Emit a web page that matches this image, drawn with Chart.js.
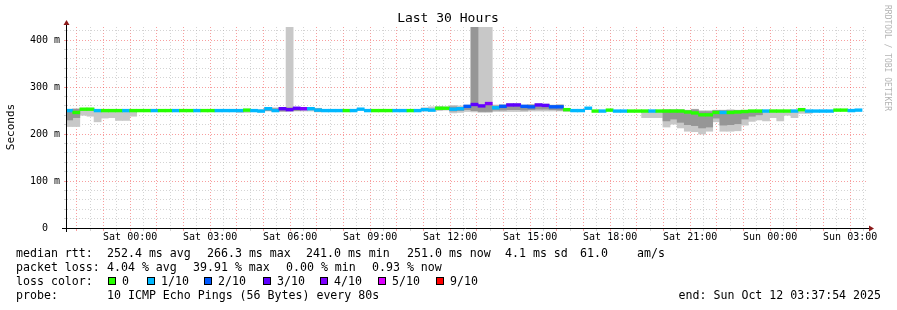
<!DOCTYPE html>
<html>
<head>
<meta charset="utf-8">
<script src="https://cdn.jsdelivr.net/npm/chart.js@4"></script>
<style>
  html, body { margin: 0; padding: 0; background: #fff; }
  canvas { display: block; }
</style>
</head>
<body>
<canvas id="chart" width="897" height="310"></canvas>
<script>
// loss legend
const lossLevels = [0, 1, 2, 3, 4, 5, 9];
const lossColors = ['#26ff00', '#00b8ff', '#0059ff', '#5e00ff', '#7e00ff', '#dd00ff', '#ff0000'];
const lossLabels = ['0', '1/10', '2/10', '3/10', '4/10', '5/10', '9/10'];

// x axis labels every 3 hours, first one is Sat 00:00
const xLabels = ['Sat 00:00', 'Sat 03:00', 'Sat 06:00', 'Sat 09:00', 'Sat 12:00',
  'Sat 15:00', 'Sat 18:00', 'Sat 21:00', 'Sun 00:00', 'Sun 03:00'];

// median rtt per 16 min step (ms)
const median = [
  250, 246, 253, 253, 250, 250, 250, 250, 250, 250,
  250, 250, 250, 250, 250, 250, 250, 250, 250, 250,
  250, 250, 250, 250, 250, 251, 250, 249, 254, 250,
  254, 252, 255, 254, 254, 251, 250, 250, 250, 250,
  250, 253, 250, 250, 250, 250, 250, 250, 250, 250,
  252, 251, 255, 255, 253, 254, 259, 263, 260, 265,
  256, 259, 262, 262, 259, 258, 262, 261, 258, 258,
  252, 250, 250, 255, 249, 249, 251, 249, 249, 249,
  249, 249, 249, 249, 249, 249, 249, 247, 245, 241,
  241, 246, 246, 246, 247, 248, 249, 249, 249, 249,
  249, 249, 249, 252, 249, 249, 249, 249, 251, 251,
  250, 251
];

// lost pings out of 10 per step
const loss = [
  1, 0, 0, 0, 1, 0, 0, 0, 1, 0,
  0, 0, 1, 0, 0, 1, 0, 0, 1, 0,
  0, 1, 1, 1, 1, 0, 1, 1, 1, 1,
  3, 3, 3, 4, 1, 1, 1, 1, 1, 0,
  1, 1, 1, 0, 0, 0, 1, 1, 0, 1,
  1, 1, 0, 0, 1, 1, 2, 3, 3, 4,
  1, 2, 3, 3, 2, 2, 3, 3, 2, 2,
  0, 1, 1, 1, 0, 1, 0, 1, 1, 0,
  0, 0, 1, 0, 0, 0, 0, 0, 0, 0,
  0, 0, 1, 0, 0, 0, 0, 0, 1, 0,
  0, 0, 1, 0, 1, 1, 1, 1, 0, 0,
  1, 1
];

// smoke, outer band (min .. max ping)
const smokeLo = [
  216, 216, 240, 238, 226, 234, 235, 229, 229, 238,
  null, null, null, null, null, null, null, null, null, null,
  null, null, null, null, 246, 246, null, 247, 249, 249,
  248, 248, 249, 249, 249, 247, null, null, null, null,
  null, null, null, null, null, null, null, null, null, null,
  249, 249, 250, 251, 245, 246, 248, 247, 246, 246,
  248, 248, 248, 248, 248, 249, 249, 249, 249, 249,
  248, null, null, null, null, null, null, null, null, null,
  null, 235, 235, 235, 215, 221, 213, 206, 205, 200,
  206, 226, 206, 206, 207, 219, 227, 230, 228, 235,
  228, 240, 235, 244, 244, null, null, null, null, null,
  null, null
];
const smokeHi = [
  253, 254, 254, 255, 252, 252, 252, 252, 252, 252,
  null, null, null, null, null, null, null, null, null, null,
  null, null, null, null, 252, 253, null, 252, 257, 256,
  257, 440, 257, 256, 256, 255, null, null, null, null,
  null, null, null, null, null, null, null, null, null, null,
  256, 258, 259, 258, 261, 260, 262, 440, 440, 440,
  262, 263, 265, 265, 262, 263, 265, 264, 262, 262,
  254, null, null, null, null, null, null, null, null, null,
  null, 251, 251, 251, 252, 252, 252, 251, 253, 250,
  250, 251, 251, 252, 251, 251, 251, 251, 251, 251,
  251, 251, 251, 253, 251, null, null, null, null, null,
  null, null
];

// smoke, inner band (darker)
const coreLo = [
  230, 235, null, null, null, null, null, null, null, null,
  null, null, null, null, null, null, null, null, null, null,
  null, null, null, null, null, null, null, null, 250, 249,
  249, 250, 250, null, null, 248, null, null, null, null,
  null, null, null, null, null, null, null, null, null, null,
  null, null, null, null, 249, 250, 252, 250, 248, 248,
  251, 251, 252, 252, 251, 252, 253, 253, 252, 251,
  null, null, null, null, null, null, null, null, null, null,
  null, null, null, null, 228, 232, 225, 220, 218, 213,
  215, 234, 219, 220, 222, 232, 238, 241, null, null,
  null, null, null, null, null, null, null, null, null, null,
  null, null
];
const coreHi = [
  251, 253, null, null, null, null, null, null, null, null,
  null, null, null, null, null, null, null, null, null, null,
  null, null, null, null, null, null, null, null, 256, 254,
  256, 256, 256, null, null, 254, null, null, null, null,
  null, null, null, null, null, null, null, null, null, null,
  null, null, null, null, 258, 257, 261, 440, 258, 262,
  260, 261, 263, 263, 261, 262, 263, 263, 261, 262,
  null, null, null, null, null, null, null, null, null, null,
  null, null, null, null, 251, 251, 251, 250, 252, 248,
  248, 250, 250, 250, 250, 250, 250, 250, null, null,
  null, null, null, null, null, null, null, null, null, null,
  null, null
];

// time axis: hours since graph start (Fri 21:37:54), 30 hours shown
const HOURS = 30;
const FIRST_BIN = 0.081;       // centre of first (partial) step
const STEP = 16 / 60;          // 16 min consolidation
const FIRST_GRID = 22.1 / 60;  // Fri 22:00
const times = median.map((_, i) => FIRST_BIN + i * STEP);

const xGrid = [];
for (let t = FIRST_GRID; t <= HOURS; t += 0.5) xGrid.push(t);
const yGrid = [];
for (let v = 0; v <= 420; v += 20) yGrid.push(v);

const MONO = '"DejaVu Sans Mono", monospace';
const MGRID = 'rgba(240, 40, 40, 0.45)';
const GRID = 'rgba(170, 170, 170, 0.5)';
const LINE_HALF = 2.9; // ms, gives a ~3px median line

function band(lo, hi) {
  const out = [];
  times.forEach((t, i) => {
    if (lo[i] != null) out.push({ x: t, y: [lo[i], hi[i]] });
  });
  return out;
}

const barOpts = {
  type: 'bar',
  grouped: false,
  barPercentage: 1,
  categoryPercentage: 1,
  borderWidth: 0,
};

const decor = {
  id: 'decor',
  afterDraw(chart) {
    const ctx = chart.ctx;
    const area = chart.chartArea;
    ctx.save();

    // axes with arrows
    ctx.strokeStyle = '#000';
    ctx.lineWidth = 1;
    ctx.beginPath();
    ctx.moveTo(area.left - 5, area.bottom + 0.5);
    ctx.lineTo(area.right + 2, area.bottom + 0.5);
    ctx.moveTo(area.left - 0.5, area.bottom + 4);
    ctx.lineTo(area.left - 0.5, area.top - 2);
    ctx.stroke();
    ctx.fillStyle = '#8b1a1a';
    ctx.beginPath();
    ctx.moveTo(area.left - 3.5, area.top - 2);
    ctx.lineTo(area.left + 2.5, area.top - 2);
    ctx.lineTo(area.left - 0.5, area.top - 7);
    ctx.closePath();
    ctx.fill();
    ctx.beginPath();
    ctx.moveTo(area.right + 2, area.bottom - 2.5);
    ctx.lineTo(area.right + 2, area.bottom + 3.5);
    ctx.lineTo(area.right + 7, area.bottom + 0.5);
    ctx.closePath();
    ctx.fill();

    ctx.fillStyle = '#000';
    ctx.textBaseline = 'middle';

    // title
    ctx.font = '13px ' + MONO;
    ctx.textAlign = 'center';
    ctx.fillText('Last 30 Hours', 448, 19);

    // vertical axis label
    ctx.save();
    ctx.translate(11, 127);
    ctx.rotate(-Math.PI / 2);
    ctx.font = '11px ' + MONO;
    ctx.fillText('Seconds', 0, 0);
    ctx.restore();

    // watermark
    ctx.save();
    ctx.translate(887, 5);
    ctx.rotate(Math.PI / 2);
    ctx.textAlign = 'left';
    ctx.fillStyle = '#b4b4b4';
    ctx.font = '8px ' + MONO;
    ctx.fillText('RRDTOOL / TOBI OETIKER', 0, 0);
    ctx.restore();

    // legend
    ctx.font = '11.6px ' + MONO;
    ctx.textAlign = 'left';
    const rows = [
      [254, [[16, 'median rtt:'], [107, '252.4 ms avg'], [207, '266.3 ms max'], [306, '241.0 ms min'],
             [407, '251.0 ms now'], [505, '4.1 ms sd'], [580, '61.0'], [637, 'am/s']]],
      [268, [[16, 'packet loss:'], [107, '4.04 % avg'], [193, '39.91 % max'], [286, '0.00 % min'],
             [372, '0.93 % now']]],
      [282, [[16, 'loss color:']]],
      [295.5, [[16, 'probe:'], [107, '10 ICMP Echo Pings (56 Bytes) every 80s']]],
    ];
    rows.forEach(([y, items]) => items.forEach(([x, s]) => ctx.fillText(s, x, y)));

    const boxX = [108, 147, 204, 263, 320, 378, 436];
    lossLabels.forEach((lbl, i) => {
      ctx.fillStyle = lossColors[i];
      ctx.fillRect(boxX[i], 277, 8, 8);
      ctx.strokeStyle = '#000';
      ctx.strokeRect(boxX[i] + 0.5, 277.5, 7, 7);
      ctx.fillStyle = '#000';
      ctx.fillText(lbl, boxX[i] + 14, 282);
    });

    ctx.textAlign = 'right';
    ctx.fillText('end: Sun Oct 12 03:37:54 2025', 881, 295.5);
    ctx.restore();
  }
};

new Chart(document.getElementById('chart'), {
  type: 'bar',
  data: {
    datasets: [
      Object.assign({}, barOpts, {
        label: 'median',
        order: 0,
        data: times.map((t, i) => ({ x: t, y: [median[i] - LINE_HALF, median[i] + LINE_HALF] })),
        backgroundColor: loss.map(l => lossColors[lossLevels.indexOf(l)]),
      }),
      Object.assign({}, barOpts, {
        label: 'smoke core',
        order: 1,
        data: band(coreLo, coreHi),
        backgroundColor: '#969696',
      }),
      Object.assign({}, barOpts, {
        label: 'smoke',
        order: 2,
        data: band(smokeLo, smokeHi),
        backgroundColor: '#c8c8c8',
      }),
    ]
  },
  options: {
    responsive: false,
    animation: false,
    devicePixelRatio: 1,
    events: [],
    layout: { padding: { left: 0, top: 27, right: 30, bottom: 0 } },
    plugins: { legend: { display: false }, tooltip: { enabled: false }, title: { display: false } },
    scales: {
      x: {
        type: 'linear',
        min: 0,
        max: HOURS,
        offset: false,
        afterBuildTicks: s => { s.ticks = xGrid.map(v => ({ value: v })); },
        afterFit: s => { s.height = 82; },
        grid: {
          offset: false,
          color: c => (c.index % 2 === 0 ? MGRID : GRID),
          tickColor: c => (c.index % 2 === 0 ? MGRID : GRID),
          tickLength: 3,
          tickBorderDash: [3, 0],
        },
        border: { display: false, dash: [1, 2] },
        ticks: {
          autoSkip: false,
          maxRotation: 0,
          padding: 0,
          color: '#000',
          font: { family: MONO, size: 10 },
          callback: (v, i) => ((i - 4) % 6 === 0 && i >= 4 ? xLabels[(i - 4) / 6] : ''),
        },
      },
      y: {
        min: 0,
        max: 428,
        afterBuildTicks: s => { s.ticks = yGrid.map(v => ({ value: v })); },
        afterFit: s => { s.width = 67; },
        grid: {
          color: c => (c.tick && c.tick.value % 100 === 0 ? MGRID : GRID),
          tickColor: c => (c.tick && c.tick.value % 100 === 0 ? MGRID : GRID),
          tickLength: 3,
          tickBorderDash: [3, 0],
        },
        border: { display: false, dash: [1, 2] },
        ticks: {
          autoSkip: false,
          padding: 4,
          color: '#000',
          font: { family: MONO, size: 10 },
          callback: v => (v % 100 ? '' : (v === 0 ? '0  ' : v + ' m')),
        },
      },
    },
  },
  plugins: [decor],
});
</script>
</body>
</html>
